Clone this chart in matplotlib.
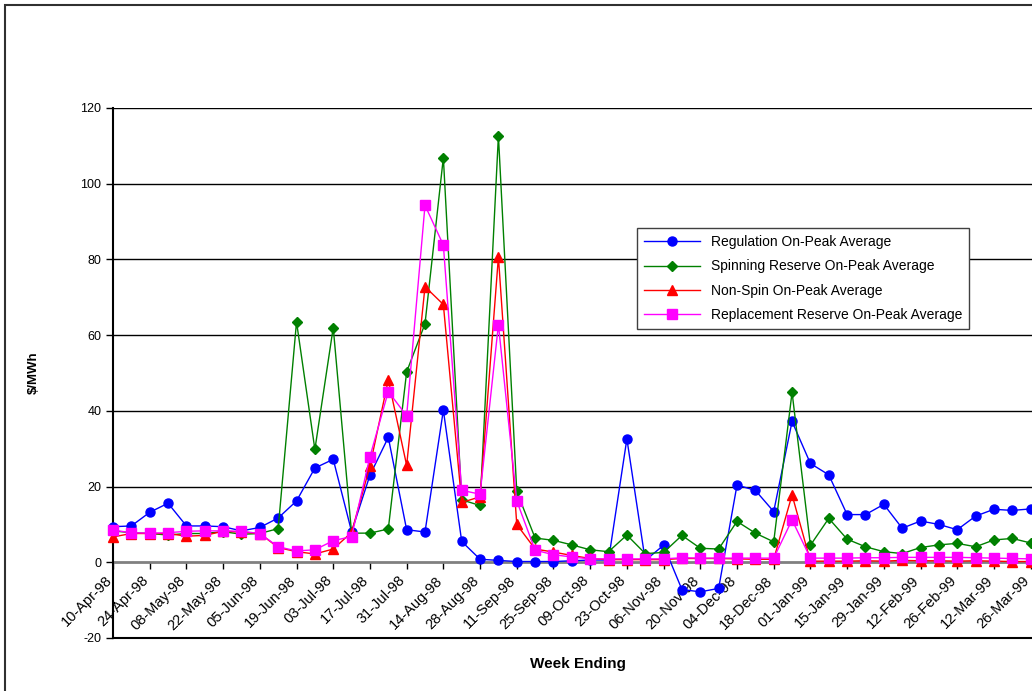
import matplotlib
matplotlib.use("Agg")
import matplotlib.pyplot as plt
from matplotlib.patches import Rectangle
from matplotlib.transforms import ScaledTranslation

plt.rcParams['font.family'] = ['Liberation Sans', 'DejaVu Sans']
plt.rcParams['axes.unicode_minus'] = False

# weekly on-peak averages, week ending 10-Apr-98 onward
weeks = list(range(51))
regulation = [9.4, 9.6, 13.2, 15.6, 9.6, 9.6, 9.4, 8.3, 9.2, 11.7,
              16.2, 24.9, 27.2, 8.1, 23.0, 33.0, 8.6, 8.0, 40.2, 5.5,
              0.8, 0.5, 0.2, 0.2, 0.2, 0.4, 0.6, 0.6, 32.6, 0.5,
              4.5, -7.2, -7.8, -6.9, 20.4, 19.0, 13.4, 37.2, 26.1, 23.1,
              12.6, 12.6, 15.3, 9.0, 10.9, 10.0, 8.6, 12.2, 14.0, 13.7, 14.1]
spinning = [8.3, 7.8, 7.6, 7.2, 7.6, 7.6, 8.1, 7.4, 7.6, 8.9,
            63.5, 29.8, 62.0, 7.7, 7.7, 8.8, 50.3, 63.0, 106.9, 16.5,
            15.0, 112.7, 18.7, 6.4, 5.8, 4.6, 3.3, 2.8, 7.2, 2.3,
            2.6, 7.1, 3.7, 3.5, 10.8, 7.7, 5.4, 44.9, 4.5, 11.6,
            6.1, 4.1, 2.8, 2.3, 3.9, 4.6, 5.0, 4.1, 5.9, 6.3, 5.1]
nonspin = [6.7, 7.6, 7.6, 7.6, 6.9, 7.1, 8.2, 8.0, 7.6, 3.9,
           2.8, 2.2, 3.5, 7.9, 25.4, 48.2, 25.6, 72.8, 68.1, 15.8,
           17.3, 80.7, 10.0, 3.5, 2.7, 1.8, 1.0, 0.7, 0.7, 0.7,
           0.7, 1.0, 1.0, 1.0, 0.9, 0.8, 0.8, 17.8, 0.3, 0.3,
           0.3, 0.4, 0.3, 0.5, 0.4, 0.4, 0.3, 0.4, 0.3, 0.2, 0.2]
replacement = [8.5, 7.8, 7.7, 7.8, 8.2, 8.3, 8.3, 8.2, 7.6, 4.1,
               3.0, 3.3, 5.7, 6.8, 27.9, 45.1, 38.7, 94.3, 83.8, 19.0,
               18.0, 62.8, 16.2, 3.2, 2.0, 1.4, 0.9, 0.9, 0.9, 0.9,
               0.9, 1.2, 1.1, 1.1, 1.1, 1.1, 1.1, 11.2, 1.1, 1.1,
               1.1, 1.2, 1.2, 1.3, 1.3, 1.3, 1.3, 1.2, 1.1, 1.0, 0.9]

tick_labels = ['10-Apr-98', '24-Apr-98', '08-May-98', '22-May-98', '05-Jun-98',
               '19-Jun-98', '03-Jul-98', '17-Jul-98', '31-Jul-98', '14-Aug-98',
               '28-Aug-98', '11-Sep-98', '25-Sep-98', '09-Oct-98', '23-Oct-98',
               '06-Nov-98', '20-Nov-98', '04-Dec-98', '18-Dec-98', '01-Jan-99',
               '15-Jan-99', '29-Jan-99', '12-Feb-99', '26-Feb-99', '12-Mar-99',
               '26-Mar-99']

fig = plt.figure(figsize=(10.32, 6.91), dpi=100)
# axes runs past the right edge of the picture, like the original
ax = fig.add_axes([113 / 1032, 53 / 691, 936 / 1032, 530 / 691])

ax.plot(weeks, regulation, color='#0000FF', marker='o', ms=6.5, lw=1,
        label='Regulation On-Peak Average', zorder=3, clip_on=False)
ax.plot(weeks, spinning, color='#008000', marker='D', ms=5, lw=1,
        label='Spinning Reserve On-Peak Average', zorder=3, clip_on=False)
ax.plot(weeks, nonspin, color='#FF0000', marker='^', ms=7, lw=1,
        label='Non-Spin On-Peak Average', zorder=3, clip_on=False)
ax.plot(weeks, replacement, color='#FF00FF', marker='s', ms=7, lw=1,
        label='Replacement Reserve On-Peak Average', zorder=3, clip_on=False)

# category axis crosses at 0 (set before tick labels, it resets the ticks)
ax.spines['top'].set_visible(False)
ax.spines['right'].set_visible(False)
ax.spines['left'].set_linewidth(1.5)
ax.spines['bottom'].set_position(('data', 0))
ax.spines['bottom'].set_color('#808080')
ax.spines['bottom'].set_linewidth(2)
ax.spines['bottom'].set_zorder(2)

ax.set_xlim(0, 51)
ax.set_ylim(-20, 120)
ax.set_yticks(range(-20, 121, 20))
ax.set_xticks(weeks[::2])
ax.set_xticklabels(tick_labels)
ax.tick_params(axis='y', labelsize=9, length=5, width=1, direction='out')
ax.tick_params(axis='x', length=5, width=1, direction='out', pad=2,
               labelsize=10.5)
shift = ScaledTranslation(-6 / 72, -1 / 72, fig.dpi_scale_trans)
for lab in ax.get_xticklabels():
    lab.set_rotation(45)
    lab.set_ha('right')
    lab.set_va('top')
    lab.set_rotation_mode('anchor')
    lab.set_transform(lab.get_transform() + shift)

for y in range(20, 121, 20):
    ax.axhline(y, color='black', lw=1, zorder=1)
ax.axhline(-20, color='black', lw=1.5, zorder=1, clip_on=False)

ax.set_xlabel('Week Ending', fontsize=11, fontweight='bold')
ax.xaxis.set_label_coords(0.497, -0.036)
ax.set_ylabel('$/MWh', fontsize=9.5, fontweight='bold')
ax.yaxis.set_label_coords(-0.078, 0.5)

leg = ax.legend(loc='upper left', bbox_to_anchor=(637 / 1032, 1 - 228 / 691),
                bbox_transform=fig.transFigure, fontsize=10, frameon=True,
                fancybox=False, edgecolor='#404040', framealpha=1,
                handlelength=4, borderpad=0.5, labelspacing=0.75,
                borderaxespad=0)
leg.get_frame().set_linewidth(1)

fig.patches.append(Rectangle((5 / 1032, -0.01), 1.1, 1 - 5 / 691 + 0.01,
                             transform=fig.transFigure, fill=False,
                             edgecolor='#303030', lw=1.5))

fig.savefig('out.png', dpi=100)
